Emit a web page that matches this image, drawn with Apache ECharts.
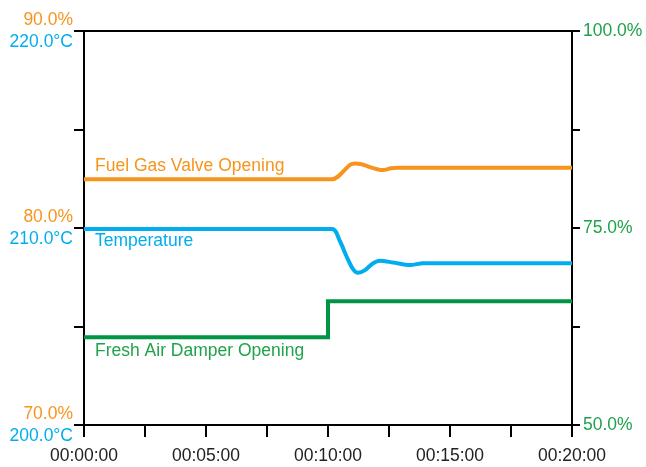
<!DOCTYPE html>
<html>
<head>
<meta charset="utf-8">
<script src="https://cdn.jsdelivr.net/npm/echarts@6/dist/echarts.min.js"></script>
<style>html,body{margin:0;padding:0;background:#fff}#c{width:646px;height:467px}</style>
</head>
<body>
<div id="c"></div>
<script>
// ---- data (time in seconds) ----
const xTickLabels = ['00:00:00', '00:05:00', '00:10:00', '00:15:00', '00:20:00'];
const leftPctLabels = ['70.0%', '80.0%', '90.0%'];
const leftTempLabels = ['200.0°C', '210.0°C', '220.0°C'];
const rightPctLabels = ['50.0%', '75.0%', '100.0%'];

const fuelTimes  = [0, 609, 655, 666, 680, 735, 755, 770, 1200];
const fuelValues = [82.47, 82.47, 83.22, 83.28, 83.25, 82.94, 83.03, 83.06, 83.06];

const tempTimes  = [0, 610, 630, 646, 662, 674, 690, 710, 728, 760, 802, 834, 1200];
const tempValues = [209.95, 209.95, 209.3, 208.54, 207.9, 207.73, 207.85, 208.2, 208.34, 208.25, 208.12, 208.21, 208.21];

const damperTimes  = [0, 600, 600, 1200];
const damperValues = [61.13, 61.13, 65.7, 65.7];

const seriesNames = ['Fuel Gas Valve Opening', 'Temperature', 'Fresh Air Damper Opening'];

const ORANGE = '#f7941d', BLUE = '#00aeef', GREEN = '#009444', GREEN_TXT = '#1fa24a';
const FONT = '"Liberation Sans", Arial, Helvetica, sans-serif';
const FS = 17.5;
const zip = (a, b) => a.map((v, i) => [v, b[i]]);

const chart = echarts.init(document.getElementById('c'), null, { renderer: 'canvas' });
const axisLine = { show: true, lineStyle: { color: '#000', width: 2 } };

function nameLabel(text, color, x, y, dy) {
  return {
    symbol: 'circle', symbolSize: 0, silent: true,
    data: [{
      coord: [x, y],
      label: {
        show: true, position: 'right', distance: 5, offset: [6, dy],
        formatter: text, color: color, fontSize: FS, fontFamily: FONT
      }
    }]
  };
}

chart.setOption({
  animation: false,
  grid: { left: 84, right: 74, top: 31, bottom: 42, containLabel: false },
  xAxis: [{
    type: 'value', min: 0, max: 1200, interval: 300, position: 'bottom',
    axisLine: axisLine,
    axisTick: { show: true, length: 12, inside: false, lineStyle: { color: '#000', width: 2 } },
    minorTick: { show: true, splitNumber: 2, length: 12, lineStyle: { color: '#000', width: 2 } },
    splitLine: { show: false },
    axisLabel: {
      margin: 22, fontSize: FS, color: '#222', fontFamily: FONT,
      formatter: v => xTickLabels[Math.round(v / 300)]
    }
  }, {
    type: 'value', min: 0, max: 1200, position: 'top',
    axisLine: axisLine, axisTick: { show: false }, axisLabel: { show: false }, splitLine: { show: false }
  }],
  yAxis: [{
    type: 'value', min: 200, max: 220, interval: 10, position: 'left',
    axisLine: axisLine,
    axisTick: { show: true, length: 10, lineStyle: { color: '#000', width: 2 } },
    minorTick: { show: true, splitNumber: 2, length: 10, lineStyle: { color: '#000', width: 2 } },
    splitLine: { show: false },
    axisLabel: {
      margin: 11, fontFamily: FONT, align: 'right',
      formatter: v => {
        const i = Math.round((v - 200) / 10);
        return '{a|' + leftPctLabels[i] + '}\n{b|' + leftTempLabels[i] + '}';
      },
      rich: {
        a: { color: ORANGE, fontSize: FS, lineHeight: 22, fontFamily: FONT, align: 'right' },
        b: { color: BLUE, fontSize: FS, lineHeight: 22, fontFamily: FONT, align: 'right' }
      }
    }
  }, {
    type: 'value', min: 70, max: 90, position: 'left', show: false,
    axisLine: { show: false }, axisTick: { show: false }, axisLabel: { show: false }, splitLine: { show: false }
  }, {
    type: 'value', min: 50, max: 100, interval: 25, position: 'right',
    axisLine: axisLine,
    axisTick: { show: true, length: 8, lineStyle: { color: '#000', width: 2 } },
    minorTick: { show: true, splitNumber: 2, length: 8, lineStyle: { color: '#000', width: 2 } },
    splitLine: { show: false },
    axisLabel: {
      margin: 11, fontSize: FS, color: GREEN_TXT, fontFamily: FONT,
      formatter: v => rightPctLabels[Math.round((v - 50) / 25)]
    }
  }],
  series: [{
    name: seriesNames[0], type: 'line', xAxisIndex: 0, yAxisIndex: 1,
    data: zip(fuelTimes, fuelValues), showSymbol: false, symbol: 'none', smooth: 0.3,
    lineStyle: { color: ORANGE, width: 4 }, z: 5,
    markPoint: nameLabel(seriesNames[0], ORANGE, fuelTimes[0], fuelValues[0], -13.5)
  }, {
    name: seriesNames[1], type: 'line', xAxisIndex: 0, yAxisIndex: 0,
    data: zip(tempTimes, tempValues), showSymbol: false, symbol: 'none', smooth: 0.3,
    lineStyle: { color: BLUE, width: 4 }, z: 5,
    markPoint: nameLabel(seriesNames[1], BLUE, tempTimes[0], tempValues[0], 12.5)
  }, {
    name: seriesNames[2], type: 'line', xAxisIndex: 0, yAxisIndex: 2,
    data: zip(damperTimes, damperValues), showSymbol: false, symbol: 'none',
    lineStyle: { color: GREEN, width: 4, join: 'miter' }, z: 5,
    markPoint: nameLabel(seriesNames[2], GREEN_TXT, damperTimes[0], damperValues[0], 14)
  }]
});
</script>
</body>
</html>
